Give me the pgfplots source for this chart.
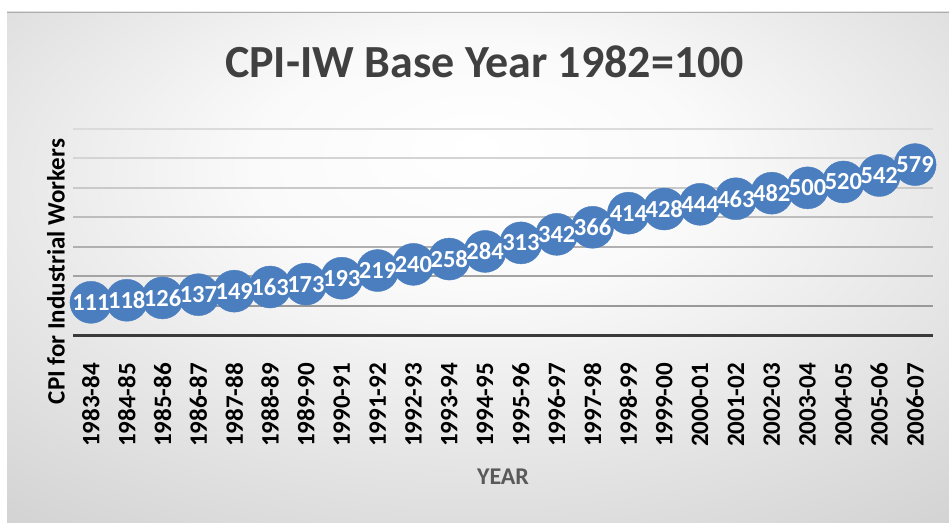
\documentclass[border=0pt]{standalone}
\usepackage{fontspec}
\setmainfont{Carlito}
\usepackage{pgfplots}
\usepackage{pgfplotstable}
\pgfplotsset{compat=1.18}
\definecolor{mk}{HTML}{4A7EBF}
\definecolor{ttl}{HTML}{404040}
\definecolor{xlab}{HTML}{595959}
\definecolor{axc}{HTML}{3A3A3A}
\pgfdeclareradialshading{bgshade}{\pgfpoint{0bp}{12bp}}{color(0bp)=(white); color(12bp)=(white!98!black); color(50bp)=(black!23); color(75bp)=(black!29)}
\pgfplotstableread{
x y
0 111
1 118
2 126
3 137
4 149
5 163
6 173
7 193
8 219
9 240
10 258
11 284
12 313
13 342
14 366
15 414
16 428
17 444
18 463
19 482
20 500
21 520
22 542
23 579
}\cpi
\begin{document}
\begin{tikzpicture}
\useasboundingbox (0pt,0pt) rectangle (949pt,522pt);
\fill[white] (0pt,0pt) rectangle (949pt,522pt);
\shade[shading=bgshade] (7pt,0pt) rectangle (949pt,510pt);
\draw[black!32, line width=1.5pt] (7pt,509.5pt) -- (949pt,509.5pt);
\begin{axis}[
  at={(73pt,187pt)}, anchor=south west,
  scale only axis, width=860pt, height=206pt,
  xmin=-0.5, xmax=23.5, ymin=0, ymax=700,
  clip=false,
  axis lines*=left,
  y axis line style={draw=none},
  x axis line style={line width=3pt, draw=axc},
  major tick length=0pt,
  ytick={0,100,...,700}, yticklabels={},
  xtick={0,...,23},
  xticklabels={1983-84,1984-85,1985-86,1986-87,1987-88,1988-89,1989-90,1990-91,1991-92,1992-93,1993-94,1994-95,1995-96,1996-97,1997-98,1998-99,1999-00,2000-01,2001-02,2002-03,2003-04,2004-05,2005-06,2006-07},
  xticklabel style={rotate=90, anchor=east, inner sep=0pt, font=\fontsize{25}{25}\selectfont\bfseries, text=black},
  xticklabel shift=28pt,
  /pgf/number format/assume math mode=true,
  title={CPI-IW Base Year 1982=100},
  title style={at={(axis description cs:0.4785,1.223)}, anchor=base, font=\fontsize{46}{46}\selectfont\bfseries, text=ttl},
  ylabel={CPI for Industrial Workers},
  ylabel style={at={(axis description cs:-0.0198,0.308)}, anchor=center, rotate=0, font=\fontsize{25}{25}\selectfont\bfseries, text=black},
  xlabel={YEAR},
  xlabel style={at={(axis description cs:0.5,-0.689)}, anchor=center, font=\fontsize{24}{24}\selectfont\bfseries, text=xlab},
]
\draw[line width=2pt, draw=black!14] (axis cs:-0.5,700) -- (axis cs:23.5,700);
\draw[line width=2pt, draw=black!17] (axis cs:-0.5,600) -- (axis cs:23.5,600);
\draw[line width=2pt, draw=black!21] (axis cs:-0.5,500) -- (axis cs:23.5,500);
\draw[line width=2pt, draw=black!26] (axis cs:-0.5,400) -- (axis cs:23.5,400);
\draw[line width=2pt, draw=black!31] (axis cs:-0.5,300) -- (axis cs:23.5,300);
\draw[line width=2pt, draw=black!36] (axis cs:-0.5,200) -- (axis cs:23.5,200);
\draw[line width=2pt, draw=black!40] (axis cs:-0.5,100) -- (axis cs:23.5,100);
\addplot[only marks, mark=*, mark size=21pt, mark options={fill=mk, draw=mk}] table[x=x,y=y] {\cpi};
\addplot[draw=none, mark=none, nodes near coords,
  every node near coord/.append style={anchor=center, inner sep=0pt, text=white, font=\fontsize{24.5}{24.5}\selectfont\bfseries}] table[x=x,y=y] {\cpi};
\end{axis}
\end{tikzpicture}
\end{document}
